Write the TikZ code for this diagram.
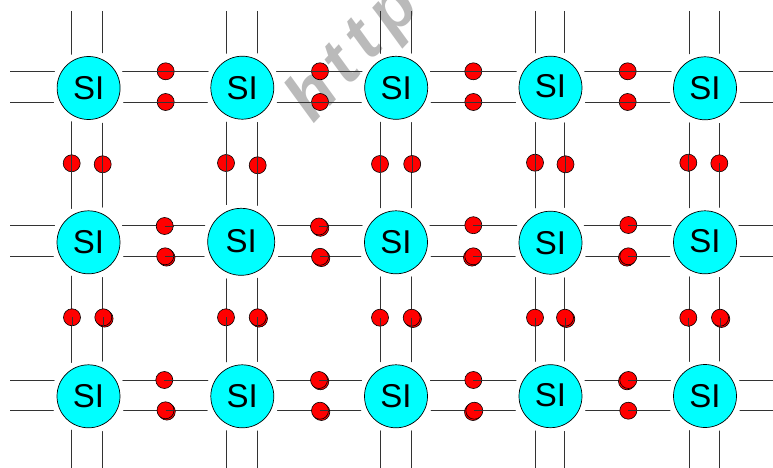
\documentclass[tikz,border=0pt]{standalone}
\usepackage{fontspec}
\setmainfont{Liberation Sans}
\newfontfamily\wmfont[LetterSpace=15]{Liberation Sans}
\usetikzlibrary{shadows}
\definecolor{aqua}{RGB}{0,255,255}
\definecolor{ered}{RGB}{255,0,0}
\begin{document}
\begin{tikzpicture}[x=1pt,y=-1pt,
  grid/.style={draw=black!80,line width=0.9pt},
  si/.style={circle,draw=black,line width=0.7pt,fill=aqua,minimum size=63pt,inner sep=0pt,
    font=\fontsize{33}{33}\selectfont,preaction={draw=white,line width=12pt}},
  dot/.style={circle,draw=black,line width=0.6pt,fill=ered,minimum size=17pt,inner sep=0pt},
  ddr/.style={dot,copy shadow={shadow xshift=1.3pt,shadow yshift=-1.3pt}},
  ddl/.style={dot,copy shadow={shadow xshift=-1.3pt,shadow yshift=-1.3pt}},
  wm/.style={text=black!27,font=\wmfont\bfseries\itshape\fontsize{68}{68}\selectfont,inner sep=0pt}]
\useasboundingbox (0,0) rectangle (773,468);
\clip (0,0) rectangle (773,468);
% watermark
\node[wm,anchor=base west,rotate=47] (wmark) at (313,125) {http};
% lattice lines
\foreach \y in {71,102,225,256.7,380.3,410.3}{
  \coordinate (hl) at (10,\y); \coordinate (hr) at (773,\y);
  \draw[grid] (hl) -- (hr);}
\foreach \x in {71.7,102.7,226.7,257.3,380,411,535.3,564.3,689,719.3}{
  \coordinate (vt) at (\x,11); \coordinate (vb) at (\x,468);
  \draw[grid] (vt) -- (vb);}
% SI atoms
\node[si] (s11) at (88.6,88) {SI};
\node[si] (s12) at (242.3,87.7) {SI};
\node[si] (s13) at (396.2,87.8) {\raisebox{-2.5pt}{SI}};
\node[si] (s14) at (550.5,87.7) {\raisebox{3pt}{SI}};
\node[si] (s15) at (705,88.3) {SI};
\node[si] (s21) at (88.5,242.3) {\raisebox{-1pt}{SI}};
\node[si,minimum size=67pt] (s22) at (241.2,241.8) {\raisebox{1.5pt}{SI}};
\node[si] (s23) at (396,242.3) {SI};
\node[si] (s24) at (550.5,242.7) {SI};
\node[si] (s25) at (705,242.3) {\raisebox{2.3pt}{SI}};
\node[si] (s31) at (88.5,396.3) {\raisebox{1pt}{SI}};
\node[si] (s32) at (242.3,396.3) {SI};
\node[si] (s33) at (396,396.3) {SI};
\node[si] (s34) at (550.5,396.2) {\raisebox{3pt}{SI}};
\node[si] (s35) at (705,396) {SI};
% electrons, row 1 horizontal
\foreach \n/\x in {a/165.7,b/320,c/473.3,d/627.7}{
  \node[dot] (h1\n u) at (\x,71.3) {};
  \node[dot] (h1\n l) at (\x,102) {};
  \draw[grid] (h1\n u.west) -- (h1\n u.east);
  \draw[grid] (h1\n l.west) -- (h1\n l.east);}
% row 1 vertical
\foreach \n/\x/\y in {a/71.7/163.3,b/102.7/164.3,c/226/163,d/257.7/165.3,e/380/164,f/412.2/164,g/535/162.7,h/565.5/164.3,i/688.3/162.7}{
  \node[dot] (v1\n) at (\x,\y) {};
  \draw[grid] (v1\n.north) -- (v1\n.south);}
\node[dot] (v1j) at (719.3,163.3) {};
\draw[grid] (v1j.center) -- (v1j.south);
% row 2 horizontal
\node[dot] (h2au) at (164.7,226) {};
\node[ddr] (h2al) at (165.2,256.3) {};
\node[ddr] (h2bu) at (319,226.5) {};
\node[ddr] (h2bl) at (320,256.8) {};
\node[dot] (h2cu) at (473.3,225.2) {};
\node[ddl] (h2cl) at (473.3,256.3) {};
\node[dot] (h2du) at (628.3,225) {};
\node[ddl] (h2dl) at (628.3,256.3) {};
\foreach \n in {h2au,h2al,h2bu,h2bl,h2cu,h2cl,h2du,h2dl}{
  \draw[grid] (\n.center) -- (\n.east);}
% row 2 vertical
\node[dot] (v2a) at (72,317.3) {};
\node[ddr] (v2b) at (103.3,317.3) {};
\node[dot] (v2c) at (226,317.3) {};
\node[ddr] (v2d) at (257.7,317.3) {};
\node[dot] (v2e) at (380,317.7) {};
\node[ddr] (v2f) at (411.7,317.7) {};
\node[dot] (v2g) at (535,317.7) {};
\node[ddr] (v2h) at (565,317.7) {};
\node[dot] (v2i) at (688.3,317.7) {};
\node[ddr] (v2j) at (720,317.7) {};
\foreach \n in {v2a,v2b,v2c,v2d,v2e,v2f,v2g,v2h,v2i,v2j}{
  \draw[grid] (\n.center) -- (\n.south);}
% row 3 horizontal
\node[dot] (h3au) at (164.3,380) {};
\node[ddr] (h3al) at (165.5,410.3) {};
\node[ddr] (h3bu) at (319,380) {};
\node[ddr] (h3bl) at (320,410.7) {};
\node[dot] (h3cu) at (473.3,380) {};
\node[ddl] (h3cl) at (474.3,410.7) {};
\node[ddl] (h3du) at (628.3,380) {};
\node[dot] (h3dl) at (628.3,410.7) {};
\foreach \n in {h3au,h3al,h3bu,h3bl,h3cu,h3cl,h3du,h3dl}{
  \draw[grid] (\n.center) -- (\n.east);}
\end{tikzpicture}
\end{document}
